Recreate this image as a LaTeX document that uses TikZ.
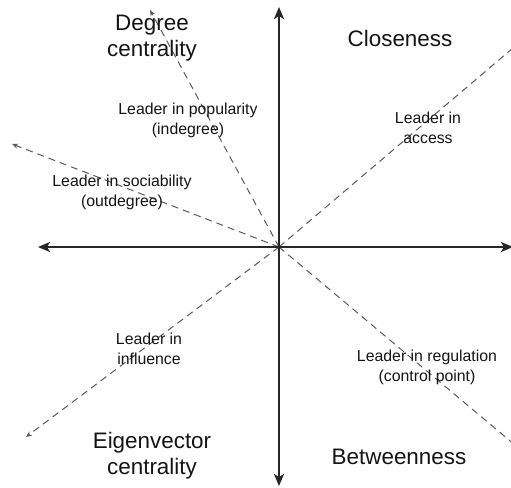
\documentclass[tikz,border=0pt]{standalone}
\usepackage{fontspec}
\setmainfont{Liberation Sans}
\usetikzlibrary{arrows.meta}
\definecolor{axisgray}{HTML}{262626}
\definecolor{dashgray}{HTML}{5A5A5A}
\tikzset{
  axisline/.style={draw=axisgray, line width=2.6bp, -{Stealth[length=12bp,width=10bp,inset=3bp]}},
  dimline/.style={draw=dashgray, line width=1bp, dash pattern=on 7bp off 5bp, -{Stealth[length=6bp,width=5bp]}},
  opendim/.style={draw=dashgray, line width=1bp, dash pattern=on 7bp off 5bp},
  bigtxt/.style={align=center, font=\fontsize{22.5}{26}\selectfont, text=black!92, inner sep=0pt},
  smalltxt/.style={align=center, font=\fontsize{15.9}{20}\selectfont, text=black!92, inner sep=0pt}
}
\begin{document}
\begin{tikzpicture}[x=1bp,y=-1bp]
\useasboundingbox (0,0) rectangle (511,488);
\coordinate (O) at (279,247);
\coordinate (top) at (279,7);
\coordinate (bot) at (279,486);
\coordinate (lft) at (38,247);
\coordinate (rgt) at (513,247);
\coordinate (indeg) at (150,10);
\coordinate (outdeg) at (12,144);
\coordinate (clos) at (540,25);
\coordinate (eig) at (26,437);
\coordinate (betw) at (540,466);
% dashed dimension lines
\draw[dimline] (O) -- (indeg);
\draw[dimline] (O) -- (outdeg);
\draw[dimline] (O) -- (eig);
\draw[opendim] (O) -- (clos);
\draw[opendim] (O) -- (betw);
% axes
\draw[axisline] (O) -- (top);
\draw[axisline] (O) -- (bot);
\draw[axisline] (O) -- (lft);
\draw[axisline] (O) -- (rgt);
% labels
\node[bigtxt] (degc) at (152,38) {Degree\\centrality};
\node[bigtxt] (closn) at (400,38) {Closeness};
\node[bigtxt] (eigc) at (152,456) {Eigenvector\\centrality};
\node[bigtxt] (betn) at (399,457) {Betweenness};
\node[smalltxt] (pop) at (188,120) {Leader in popularity\\(indegree)};
\node[smalltxt] (soc) at (122,192) {Leader in sociability\\(outdegree)};
\node[smalltxt] (acc) at (428,128) {Leader in\\access};
\node[smalltxt] (inf) at (149,349) {Leader in\\influence};
\node[smalltxt] (reg) at (427,367) {Leader in regulation\\(control point)};
\end{tikzpicture}
\end{document}
